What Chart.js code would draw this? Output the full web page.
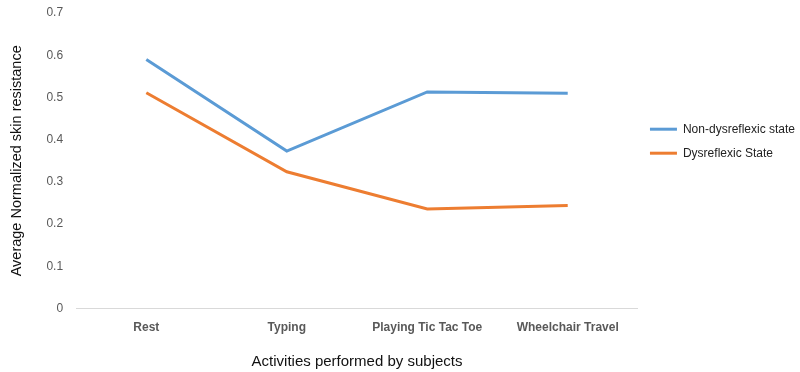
<!DOCTYPE html>
<html>
<head>
    <title>Skin resistance</title>
    <script src="https://cdn.jsdelivr.net/npm/chart.js"></script>
    <style>
        html, body { margin: 0; padding: 0; background: #fff; }
        #wrap { width: 800px; height: 372px; }
    </style>
</head>
<body>
    <div id="wrap"><canvas id="chart" width="800" height="372"></canvas></div>

    <script>
        // data
        const activities = ['Rest', 'Typing', 'Playing Tic Tac Toe', 'Wheelchair Travel'];
        const nonDysreflexic = [0.59, 0.373, 0.513, 0.51];
        const dysreflexic = [0.511, 0.324, 0.236, 0.244];
        const yTicks = [0, 0.1, 0.2, 0.3, 0.4, 0.5, 0.6, 0.7];

        const FONT = "'Liberation Sans', Arial, sans-serif";

        const ctx = document.getElementById('chart').getContext('2d');
        new Chart(ctx, {
            type: 'line',
            data: {
                labels: activities,
                datasets: [
                    {
                        label: 'Non-dysreflexic state',
                        data: nonDysreflexic,
                        borderColor: '#5b9bd5',
                        backgroundColor: '#5b9bd5',
                        borderWidth: 3,
                        pointRadius: 0,
                        tension: 0,
                        fill: false
                    },
                    {
                        label: 'Dysreflexic State',
                        data: dysreflexic,
                        borderColor: '#ed7d31',
                        backgroundColor: '#ed7d31',
                        borderWidth: 3,
                        pointRadius: 0,
                        tension: 0,
                        fill: false
                    }
                ]
            },
            options: {
                responsive: false,
                animation: false,
                layout: { padding: { top: 13, right: -5, bottom: 1, left: 8 } },
                plugins: {
                    tooltip: { enabled: false },
                    legend: {
                        position: 'right',
                        align: 'start',
                        title: { display: true, text: ' ', padding: { top: 97, bottom: 0 }, font: { size: 1 } },
                        labels: {
                            boxWidth: 27,
                            boxHeight: 3,
                            padding: 12,
                            color: '#222',
                            font: { family: FONT, size: 12 },
                            generateLabels: chart => Chart.defaults.plugins.legend.labels.generateLabels(chart)
                                .map(item => Object.assign(item, { lineWidth: 0 }))
                        }
                    }
                },
                scales: {
                    x: {
                        offset: true,
                        grid: { display: false, drawTicks: false },
                        border: { display: true, color: '#d9d9d9', width: 1 },
                        ticks: {
                            color: '#595959',
                            padding: 12,
                            font: { family: FONT, size: 12, weight: 'bold' }
                        },
                        title: {
                            display: true,
                            text: 'Activities performed by subjects',
                            color: '#111',
                            padding: { top: 6, bottom: 0 },
                            font: { family: FONT, size: 15 }
                        }
                    },
                    y: {
                        min: 0,
                        max: 0.7,
                        afterBuildTicks: axis => {
                            axis.ticks = yTicks.map(v => ({ value: v }));
                        },
                        afterFit: axis => {
                            axis.paddingTop = 0;
                        },
                        grid: { display: false, drawTicks: false },
                        border: { display: false },
                        ticks: {
                            color: '#595959',
                            padding: 13,
                            font: { family: FONT, size: 12 },
                            callback: v => String(Math.round(v * 10) / 10)
                        },
                        title: {
                            display: true,
                            text: 'Average Normalized skin resistance',
                            color: '#111',
                            padding: { top: 0, bottom: 8 },
                            font: { family: FONT, size: 14.5 }
                        }
                    }
                }
            }
        });
    </script>
</body>
</html>
